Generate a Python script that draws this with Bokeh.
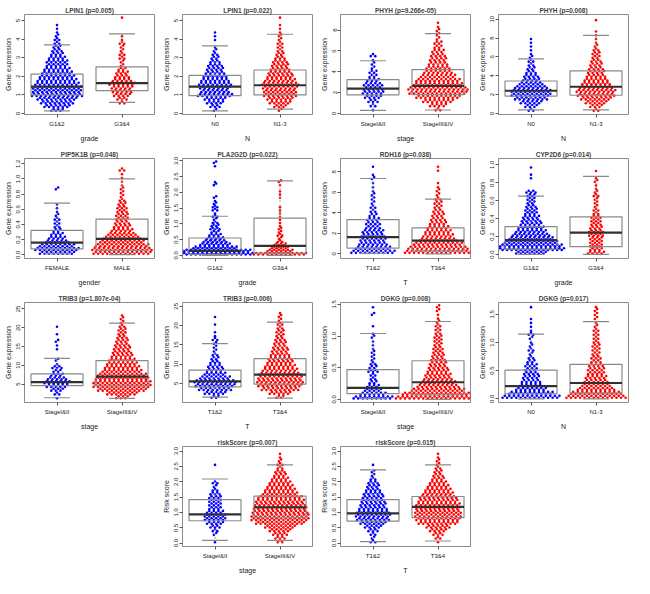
import numpy as np
from bokeh.plotting import figure
from bokeh.layouts import gridplot
from bokeh.models import Range1d, FixedTicker, PrintfTickFormatter
from bokeh.embed import file_html
from bokeh.resources import INLINE

# ---------------- panel texts ----------------
titles = ["LPIN1 (p=0.005)", "LPIN1 (p=0.022)", "PHYH (p=9.266e-05)", "PHYH (p=0.008)",
          "PIP5K1B (p=0.048)", "PLA2G2D (p=0.022)", "RDH16 (p=0.038)", "CYP2D6 (p=0.014)",
          "TRIB3 (p=1.807e-04)", "TRIB3 (p=0.006)", "DGKG (p=0.008)", "DGKG (p=0.017)",
          "riskScore (p=0.007)", "riskScore (p=0.015)"]
xlabels = ["grade", "N", "stage", "N", "gender", "grade", "T", "grade",
           "stage", "T", "stage", "N", "stage", "T"]
ylabels = ["Gene expression"] * 12 + ["Risk score"] * 2
cat_a = ["G1&2", "N0", "StageI&II", "N0", "FEMALE", "G1&2", "T1&2", "G1&2",
         "StageI&II", "T1&2", "StageI&II", "N0", "StageI&II", "T1&2"]
cat_b = ["G3&4", "N1-3", "StageIII&IV", "N1-3", "MALE", "G3&4", "T3&4", "G3&4",
         "StageIII&IV", "T3&4", "StageIII&IV", "N1-3", "StageIII&IV", "T3&4"]

# ---------------- axes ----------------
ylims = [(-0.05, 5.32), (-0.05, 5.32), (-0.1, 9.5), (-0.1, 10.5),
         (-0.05, 1.27), (-0.1, 3.07), (-0.45, 9.3), (-0.045, 1.07),
         (0.1, 26.7), (0.0, 26.0), (-0.05, 1.53), (-0.066, 1.71),
         (-0.11, 3.15), (-0.11, 3.15)]
yticks = [[0, 1, 2, 3, 4, 5], [0, 1, 2, 3, 4, 5], [0, 2, 4, 6, 8], [0, 2, 4, 6, 8, 10],
          [0.0, 0.2, 0.4, 0.6, 0.8, 1.0, 1.2], [0.0, 0.5, 1.0, 1.5, 2.0, 2.5, 3.0],
          [0, 2, 4, 6, 8], [0.0, 0.2, 0.4, 0.6, 0.8, 1.0],
          [5, 10, 15, 20, 25], [5, 10, 15, 20, 25], [0.0, 0.5, 1.0, 1.5], [0.0, 0.5, 1.0, 1.5],
          [0.0, 0.5, 1.0, 1.5, 2.0, 2.5, 3.0], [0.0, 0.5, 1.0, 1.5, 2.0, 2.5, 3.0]]
tick_fmt = ["%d", "%d", "%d", "%d", "%.1f", "%.1f", "%d", "%.1f",
            "%d", "%d", "%.1f", "%.1f", "%.1f", "%.1f"]

# ---------------- swarm data: counts of points per value bin ----------------
bin_base = [0.2, 0.2, 0.4, 0.4, 0.025, 0.05, 0.2, 0.02, 1.5, 1.5, 0.03, 0.035, 0.06, 0.06]
bin_step = [0.2, 0.2, 0.4, 0.4, 0.05, 0.1, 0.4, 0.04, 1.0, 1.0, 0.06, 0.07, 0.12, 0.12]

P1_A = [6, 12, 15, 18, 23, 22, 22, 20, 18, 16, 14, 12, 10, 10, 8, 6, 5, 4, 3, 3, 2, 1, 1, 1]
P1_B = [0, 0, 3, 5, 8, 9, 10, 12, 9, 7, 6, 4, 2, 2, 3, 3, 2, 2, 3, 1, 1, 0, 0, 0, 0, 1]
P2_A = [2, 5, 8, 10, 16, 13, 14, 15, 13, 11, 9, 8, 7, 5, 4, 3, 2, 1, 0, 1, 1, 1]
P2_B = [2, 6, 10, 12, 15, 15, 16, 17, 14, 12, 11, 9, 8, 7, 5, 4, 3, 3, 3, 2, 2, 1, 1, 1, 0, 1]
P3_A = [1, 3, 5, 8, 10, 9, 9, 6, 4, 4, 2, 2, 1, 3]
P3_B = [3, 8, 14, 20, 26, 27, 22, 20, 16, 13, 11, 9, 8, 7, 6, 4, 4, 2, 2, 2, 1, 1]
P4_A = [3, 6, 10, 15, 18, 18, 15, 11, 8, 7, 5, 4, 3, 3, 2, 1, 1, 1, 1, 1]
P4_B = [3, 6, 10, 14, 17, 18, 15, 13, 11, 9, 8, 7, 6, 5, 4, 4, 3, 2, 1, 1, 1, 1, 0, 0, 1]
P5_A = [16, 20, 16, 11, 8, 6, 4, 3, 3, 3, 2, 1, 1, 1, 0, 0, 0, 2]
P5_B = [26, 27, 24, 20, 17, 13, 10, 8, 7, 6, 6, 5, 5, 4, 3, 2, 2, 2, 1, 1, 1, 1, 3]
P6_A = [34, 32, 20, 14, 11, 8, 6, 4, 5, 4, 3, 2, 3, 1, 3, 3, 2, 1, 2, 0, 0, 0, 2, 1, 0, 0, 0, 0, 1, 2]
P6_B = [24, 12, 8, 6, 3, 2, 3, 2, 2, 1, 1, 1, 1, 1, 1, 1, 0, 0, 1, 1, 1, 0, 1, 2]
P7_A = [20, 16, 13, 12, 11, 10, 7, 7, 6, 4, 3, 3, 2, 2, 2, 1, 1, 1, 2, 1, 0, 1]
P7_B = [30, 27, 22, 17, 14, 12, 10, 8, 7, 6, 5, 4, 4, 3, 2, 2, 1, 1, 0, 0, 1, 1]
P8_A = [14, 30, 28, 24, 20, 17, 14, 12, 10, 9, 8, 6, 6, 5, 4, 4, 4, 5, 0, 0, 0, 1, 1, 0, 1]
P8_B = [8, 6, 6, 6, 6, 7, 7, 6, 5, 5, 5, 3, 3, 2, 2, 2, 3, 2, 1, 1, 2, 1, 0, 1]
P9_A = [1, 3, 6, 10, 12, 9, 6, 4, 5, 1, 2, 0, 0, 1, 1, 2, 0, 1, 0, 1]
P9_B = [6, 14, 22, 26, 26, 24, 22, 18, 16, 14, 12, 10, 9, 8, 7, 6, 5, 4, 4, 3, 2, 2, 1]
P10_A = [4, 10, 15, 18, 19, 14, 10, 8, 7, 5, 4, 3, 2, 2, 2, 3, 1, 1, 0, 1, 0, 1]
P10_B = [4, 10, 17, 20, 21, 20, 19, 16, 14, 12, 11, 9, 8, 7, 6, 5, 4, 4, 3, 3, 2, 2, 1]
P11_A = [18, 12, 8, 6, 4, 3, 3, 5, 4, 3, 2, 2, 2, 1, 1, 1, 2, 1, 0, 1, 0, 0, 2, 0, 1]
P11_B = [38, 32, 24, 19, 16, 13, 12, 10, 9, 8, 7, 6, 5, 5, 4, 4, 4, 3, 3, 3, 2, 1, 1, 2, 2]
P12_A = [26, 20, 14, 11, 9, 8, 7, 6, 6, 4, 3, 2, 3, 2, 1, 2, 3, 1, 1, 1, 1, 0, 0, 1]
P12_B = [27, 23, 17, 13, 11, 10, 8, 8, 7, 5, 5, 4, 4, 4, 3, 3, 3, 3, 2, 1, 2, 2, 2, 1]
P13_A = [1, 0, 2, 3, 5, 8, 10, 10, 8, 6, 6, 6, 6, 5, 3, 2, 3, 0, 0, 0, 0, 1]
P13_B = [3, 5, 7, 10, 14, 22, 26, 26, 25, 24, 23, 22, 20, 16, 14, 12, 10, 8, 6, 5, 3, 3, 2, 1, 1]
P14_A = [3, 2, 3, 5, 8, 12, 15, 16, 15, 13, 12, 11, 10, 9, 7, 6, 5, 3, 2, 2, 0, 1]
P14_B = [1, 3, 5, 8, 11, 18, 20, 21, 21, 20, 20, 18, 17, 14, 12, 10, 8, 6, 5, 4, 3, 2, 2, 1, 1]

counts_a = [P1_A, P2_A, P3_A, P4_A, P5_A, P6_A, P7_A, P8_A, P9_A, P10_A, P11_A, P12_A, P13_A, P14_A]
counts_b = [P1_B, P2_B, P3_B, P4_B, P5_B, P6_B, P7_B, P8_B, P9_B, P10_B, P11_B, P12_B, P13_B, P14_B]

# ---------------- box statistics (lower whisker, q1, median, q3, upper whisker) ----------------
box_a = [(0.15, 1.0, 1.45, 2.12, 3.69), (0.15, 0.96, 1.45, 2.05, 3.64),
         (0.3, 1.79, 2.39, 3.24, 5.06), (0.39, 1.84, 2.42, 3.45, 5.8),
         (0.01, 0.076, 0.16, 0.32, 0.68), (0.0, 0.03, 0.14, 0.55, 1.24),
         (0.05, 0.56, 1.64, 3.35, 7.35), (0.0, 0.06, 0.16, 0.31, 0.65),
         (1.37, 4.58, 5.5, 7.7, 11.84), (1.4, 4.04, 5.48, 8.44, 15.3),
         (0.01, 0.09, 0.18, 0.47, 1.04), (0.0, 0.088, 0.225, 0.51, 1.15),
         (0.09, 0.73, 0.94, 1.42, 2.09), (0.05, 0.72, 0.97, 1.42, 2.39)]
box_b = [(0.6, 1.23, 1.63, 2.51, 4.28), (0.24, 1.0, 1.52, 2.34, 4.26),
         (0.33, 1.8, 2.64, 4.21, 7.67), (0.39, 1.94, 2.84, 4.52, 8.29),
         (0.0, 0.056, 0.21, 0.47, 1.0), (0.0, 0.07, 0.3, 1.18, 2.36),
         (0.0, 0.3, 1.3, 2.54, 5.33), (0.0, 0.087, 0.244, 0.42, 0.87),
         (1.2, 4.5, 7.0, 11.25, 21.2), (1.16, 4.76, 7.24, 11.4, 20.9),
         (0.0, 0.07, 0.27, 0.61, 1.23), (0.0, 0.1, 0.28, 0.61, 1.37),
         (0.09, 0.84, 1.17, 1.53, 2.55), (0.07, 0.83, 1.18, 1.52, 2.55)]

COL_A = "#0000FF"
COL_B = "#FF0000"
FONT = "Liberation Sans"
W, H = 158, 144
DX = 0.035          # horizontal step between neighbouring swarm points (x data units)
BOXWEX = 0.8


def swarm(center, counts, base, step):
    """Beeswarm-like layout: points of a bin zig-zag in two staggered sub-rows."""
    xs, ys = [], []
    for k, n in enumerate(counts):
        yv = base + step * k
        for j in range(n):
            xs.append(center + (j - (n - 1) / 2.0) * DX)
            ys.append(yv + (step / 4.0 if j % 2 else -step / 4.0))
    return xs, ys


def draw_box(p, center, stats):
    lo, q1, med, q3, hi = stats
    hw = BOXWEX / 2.0
    p.segment(x0=[center, center], y0=[q3, q1], x1=[center, center], y1=[hi, lo],
              line_color="#9a9a9a", line_width=1, line_dash="2 2")
    p.segment(x0=[center - hw / 2, center - hw / 2], y0=[hi, lo],
              x1=[center + hw / 2, center + hw / 2], y1=[hi, lo],
              line_color="#8a8a8a", line_width=1.2)
    p.quad(left=[center - hw], right=[center + hw], bottom=[q1], top=[q3],
           fill_color=None, line_color="#8a8a8a", line_width=1.2)
    p.segment(x0=[center - hw], y0=[med], x1=[center + hw], y1=[med],
              line_color="#303030", line_width=2.2)


def make_panel(i):
    p = figure(width=W, height=H, x_range=Range1d(0.5, 2.5), y_range=Range1d(*ylims[i]),
               output_backend="svg", toolbar_location=None,
               min_border_left=24, min_border_right=4, min_border_top=14, min_border_bottom=26)
    p.title.text = titles[i]
    p.title.align = "center"
    p.title.text_font = FONT
    p.title.text_font_size = "6.5px"
    p.title.text_font_style = "bold"
    p.title.standoff = 2
    p.title.offset = 0
    p.grid.visible = False
    p.outline_line_color = "#8c8c8c"
    p.outline_line_width = 1
    p.background_fill_color = "white"
    p.border_fill_color = "white"

    xa, ya = swarm(1.0, counts_a[i], bin_base[i], bin_step[i])
    xb, yb = swarm(2.0, counts_b[i], bin_base[i], bin_step[i])
    p.scatter(xa, ya, size=2.6, fill_color=COL_A, line_color=None)
    p.scatter(xb, yb, size=2.6, fill_color=COL_B, line_color=None)
    draw_box(p, 1.0, box_a[i])
    draw_box(p, 2.0, box_b[i])

    xax = p.xaxis[0]
    xax.ticker = FixedTicker(ticks=[1, 2])
    xax.major_label_overrides = {1: cat_a[i], 2: cat_b[i]}
    xax.axis_label = xlabels[i]
    yax = p.yaxis[0]
    yax.ticker = FixedTicker(ticks=yticks[i])
    yax.formatter = PrintfTickFormatter(format=tick_fmt[i])
    yax.major_label_orientation = "vertical"
    yax.axis_label = ylabels[i]
    yax.bounds = (yticks[i][0], yticks[i][-1])
    for ax in (xax, yax):
        ax.axis_line_color = "#8c8c8c"
        ax.major_tick_line_color = "#555555"
        ax.major_tick_in = 0
        ax.major_tick_out = 3
        ax.minor_tick_line_color = None
        ax.major_label_text_font = FONT
        ax.major_label_text_font_size = "6px"
        ax.major_label_text_color = "#222222"
        ax.axis_label_text_font = FONT
        ax.axis_label_text_font_size = "7px"
        ax.axis_label_text_font_style = "normal"
        ax.axis_label_text_color = "#222222"
    xax.major_label_standoff = 3
    xax.axis_label_standoff = 5
    yax.major_label_standoff = 1
    yax.axis_label_standoff = 2
    return p


panels = [make_panel(i) for i in range(14)]
layout = gridplot([panels[0:4], panels[4:8], panels[8:12], [None, panels[12], panels[13], None]],
                  toolbar_location=None)

open("out.html", "w").write(file_html(layout, INLINE))
